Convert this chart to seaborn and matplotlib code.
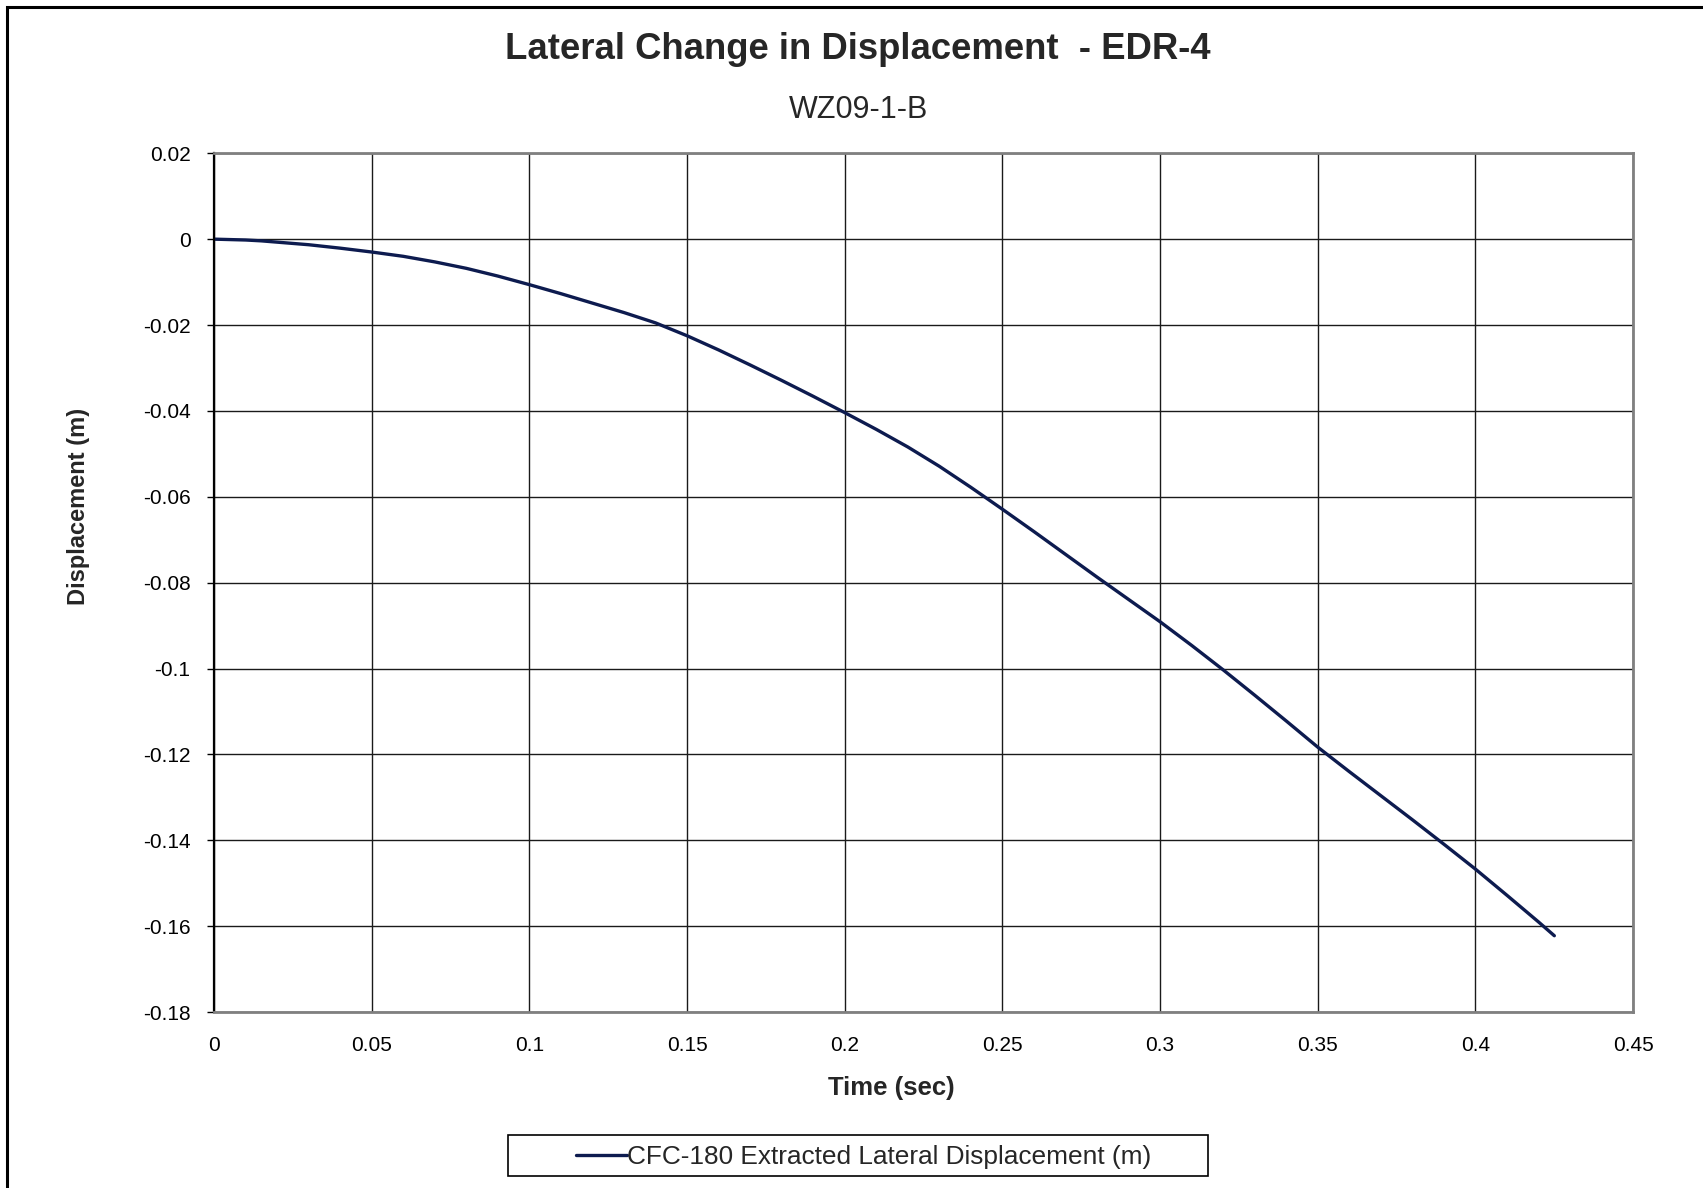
import numpy as np
import pandas as pd
import seaborn as sns
import matplotlib.pyplot as plt
from matplotlib.patches import Rectangle


# dados (tempo em s, deslocamento em m)
tempo = [0.0, 0.005, 0.01, 0.015, 0.02, 0.025, 0.03, 0.04, 0.05, 0.06,
         0.07, 0.08, 0.09, 0.1, 0.11, 0.12, 0.13, 0.14, 0.15, 0.16,
         0.17, 0.18, 0.19, 0.2, 0.21, 0.22, 0.23, 0.24, 0.25, 0.26,
         0.27, 0.28, 0.29, 0.3, 0.31, 0.32, 0.33, 0.34, 0.35, 0.36,
         0.37, 0.38, 0.39, 0.4, 0.41, 0.42, 0.425]
deslocamento = [0.0, -0.0001, -0.0002, -0.0004, -0.0007, -0.0010, -0.0013, -0.0021, -0.0030, -0.0040,
                -0.0053, -0.0068, -0.0086, -0.0106, -0.0127, -0.0149, -0.0171, -0.0195, -0.0225, -0.0258,
                -0.0293, -0.0329, -0.0366, -0.0404, -0.0443, -0.0484, -0.0529, -0.0578, -0.0629, -0.0681,
                -0.0734, -0.0787, -0.0839, -0.0891, -0.0946, -0.1003, -0.1062, -0.1122, -0.1183, -0.1240,
                -0.1296, -0.1352, -0.1409, -0.1467, -0.1528, -0.1590, -0.1622]

xticks = [0, 0.05, 0.1, 0.15, 0.2, 0.25, 0.3, 0.35, 0.4, 0.45]
yticks = [0.02, 0, -0.02, -0.04, -0.06, -0.08, -0.1, -0.12, -0.14, -0.16, -0.18]

titulo = "Lateral Change in Displacement  - EDR-4"
subtitulo = "WZ09-1-B"
serie = "CFC-180 Extracted Lateral Displacement (m)"

df = pd.DataFrame({"t": tempo, "d": deslocamento})

sns.set_style("white")
plt.rcParams["font.family"] = ["Liberation Sans", "DejaVu Sans"]

fig = plt.figure(figsize=(17.03, 11.88), dpi=100)
ax = fig.add_axes([0.1257, 0.148, 0.959 - 0.1257, 0.871 - 0.148])

sns.lineplot(data=df, x="t", y="d", ax=ax, color="#0d1b4f", linewidth=2.4,
             label=serie, sort=False, estimator=None)

ax.set_xlim(0, 0.45)
ax.set_ylim(-0.18, 0.02)
ax.set_xticks(xticks)
ax.set_yticks(yticks)
ax.set_xticklabels([f"{v:g}" for v in xticks], fontsize=15)
ax.set_yticklabels([f"{v:g}" for v in yticks], fontsize=15)
ax.tick_params(axis="x", length=0, pad=17, colors="black")
ax.tick_params(axis="y", length=5, width=1, pad=12, colors="black", direction="out", left=True)

ax.grid(True, color="#1a1a1a", linewidth=1.0)
ax.set_axisbelow(True)
ax.set_xlabel("")
ax.set_ylabel("")

ax.spines["left"].set_color("black")
ax.spines["left"].set_linewidth(1.6)
for s in ["top", "right", "bottom"]:
    ax.spines[s].set_color("#808080")
    ax.spines[s].set_linewidth(2.0)

ax.get_legend().remove()
fig.legend(loc="center", bbox_to_anchor=(0.507, 0.0258), frameon=False,
           fontsize=18.9, handlelength=1.95, handletextpad=0.0)
fig.patches.append(Rectangle((0.2983, 0.0101), 0.411, 0.0345, transform=fig.transFigure,
                             fill=False, edgecolor="black", linewidth=1.2))

fig.text(0.504, 0.9585, titulo, ha="center", va="center", fontsize=26.3, fontweight="bold")
fig.text(0.504, 0.9075, subtitulo, ha="center", va="center", fontsize=22)
fig.text(0.046, 0.5736, "Displacement (m)", rotation=90, ha="center", va="center",
         fontsize=17, fontweight="bold")
fig.text(0.5236, 0.084, "Time (sec)", ha="center", va="center", fontsize=18.5, fontweight="bold")

# moldura externa
fig.patches.append(Rectangle((0.0044, -0.05), 1.1, 0.9941 + 0.05, transform=fig.transFigure,
                             fill=False, edgecolor="black", linewidth=2.2))

plt.savefig("out.png", dpi=100)
